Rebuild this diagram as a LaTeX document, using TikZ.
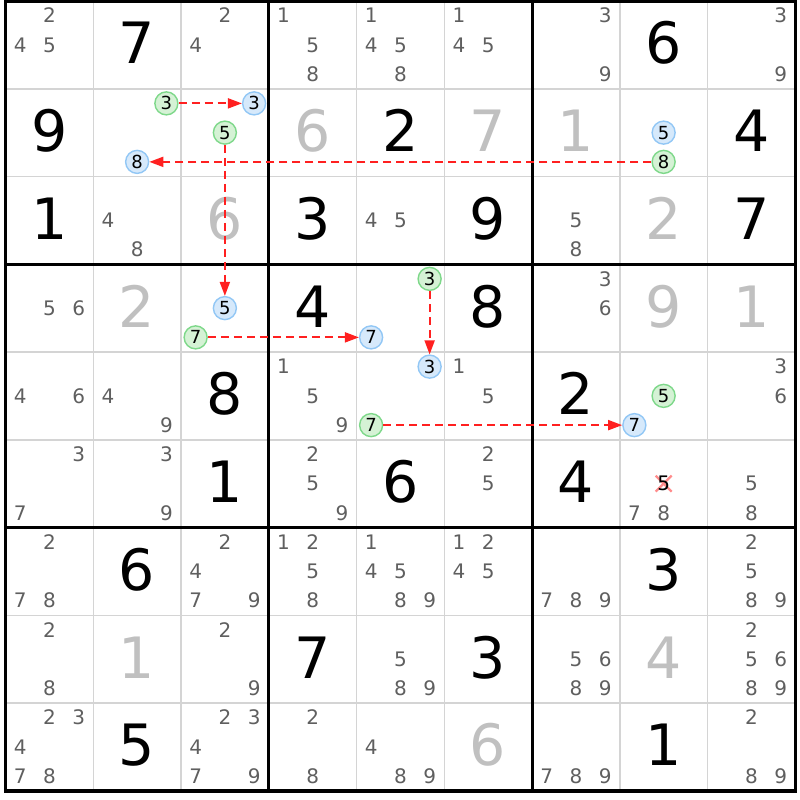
\documentclass[tikz,border=0pt]{standalone}
\usepackage{fontspec}
\setmainfont{DejaVu Sans}
\usetikzlibrary{arrows.meta}
\definecolor{cand}{HTML}{5F5F5F}
\definecolor{solved}{HTML}{C0C0C0}
\definecolor{gfill}{HTML}{D5F2D5}
\definecolor{gline}{HTML}{7ED88A}
\definecolor{bfill}{HTML}{D6E9FB}
\definecolor{bline}{HTML}{92C7F5}
\definecolor{thingrid}{HTML}{D4D4D4}
\definecolor{linkred}{HTML}{FF2020}
\definecolor{xred}{HTML}{FF8C8C}
\newcommand\candpos[3]{%
  \pgfmathtruncatemacro\sc{mod(#3-1,3)}%
  \pgfmathtruncatemacro\sr{div(#3-1,3)}%
  \pgfmathsetmacro\px{5.5+87.75*(#2-1)+87.75*(2*\sc+1)/6}%
  \pgfmathsetmacro\py{1+87.75*(#1-1)+87.75*(2*\sr+1)/6}%
}
\tikzset{
  givenstyle/.style={font=\fontsize{57}{57}\selectfont, text=black, anchor=base, inner sep=0pt},
  solvedstyle/.style={givenstyle, text=solved},
  candstyle/.style={font=\fontsize{20}{20}\selectfont, text=cand, anchor=base, inner sep=0pt},
  markbase/.style={circle, line width=1.4pt, minimum size=23pt, inner sep=0pt,
    font=\fontsize{18}{18}\selectfont, text=black, text height=13pt, text depth=0pt},
  gcirc/.style={markbase, draw=gline, fill=gfill},
  bcirc/.style={markbase, draw=bline, fill=bfill},
  link/.style={color=linkred, line width=1.8pt, dash pattern=on 8pt off 5pt,
    -{Triangle[length=14pt,width=10pt]}},
  thinline/.style={draw=thingrid, line width=1.5pt},
  thickline/.style={draw=black, line width=3pt},
  xline/.style={draw=xred, line width=2.2pt}
}
\begin{document}
\begin{tikzpicture}[x=1pt,y=-1pt]
\useasboundingbox (0,0) rectangle (800,800);
% thin grid lines
\foreach \i in {1,2,4,5,7,8}{
  \draw[thinline] (5.5+87.75*\i,1) -- (5.5+87.75*\i,790.75);
  \draw[thinline] (5.5,1+87.75*\i) -- (795.25,1+87.75*\i);
}
% thick box lines
\foreach \i in {3,6}{
  \draw[thickline] (5.5+87.75*\i,1) -- (5.5+87.75*\i,790.75);
  \draw[thickline] (5.5,1+87.75*\i) -- (795.25,1+87.75*\i);
}
\draw[draw=black, line width=3.5pt] (5.5,1) rectangle (795.25,790.75);
% given digits
\foreach \r/\c/\d in {1/2/7,1/8/6,2/1/9,2/5/2,2/9/4,3/1/1,3/4/3,3/6/9,3/9/7,
  4/4/4,4/6/8,5/3/8,5/7/2,6/3/1,6/5/6,6/7/4,7/2/6,7/8/3,8/4/7,8/6/3,9/2/5,9/8/1}{
  \pgfmathsetmacro\cx{5.5+87.75*(\c-0.5)}
  \pgfmathsetmacro\cy{1+87.75*(\r-0.5)+19}
  \node[givenstyle] (giv-\r-\c) at (\cx,\cy) {\d};
}
% solved digits
\foreach \r/\c/\d in {2/4/6,2/6/7,2/7/1,3/3/6,3/8/2,4/2/2,4/8/9,4/9/1,8/2/1,8/8/4,9/6/6}{
  \pgfmathsetmacro\cx{5.5+87.75*(\c-0.5)}
  \pgfmathsetmacro\cy{1+87.75*(\r-0.5)+19}
  \node[solvedstyle] (sol-\r-\c) at (\cx,\cy) {\d};
}
% candidates
\foreach \r/\c/\ks in {
  1/1/{2,4,5},1/3/{2,4},1/4/{1,5,8},1/5/{1,4,5,8},1/6/{1,4,5},1/7/{3,9},1/9/{3,9},
  3/2/{4,8},3/5/{4,5},3/7/{5,8},
  4/1/{5,6},4/7/{3,6},
  5/1/{4,6},5/2/{4,9},5/4/{1,5,9},5/6/{1,5},5/9/{3,6},
  6/1/{3,7},6/2/{3,9},6/4/{2,5,9},6/6/{2,5},6/8/{7,8},6/9/{5,8},
  7/1/{2,7,8},7/3/{2,4,7,9},7/4/{1,2,5,8},7/5/{1,4,5,8,9},7/6/{1,2,4,5},7/7/{7,8,9},7/9/{2,5,8,9},
  8/1/{2,8},8/3/{2,9},8/5/{5,8,9},8/7/{5,6,8,9},8/9/{2,5,6,8,9},
  9/1/{2,3,4,7,8},9/3/{2,3,4,7,9},9/4/{2,8},9/5/{4,8,9},9/7/{7,8,9},9/9/{2,8,9}}{
  \foreach \k in \ks {
    \candpos{\r}{\c}{\k}
    \node[candstyle] (cand-\r-\c-\k) at (\px,\py+7.3) {\k};
  }
}
% eliminated candidate
\candpos{6}{8}{5}
\coordinate (xc) at (\px,\py);
\draw[xline] ([shift={(-8,-8)}]xc) -- ([shift={(8,8)}]xc);
\draw[xline] ([shift={(-8,8)}]xc) -- ([shift={(8,-8)}]xc);
\node[candstyle, text=black] (cand-6-8-5) at (\px,\py+7.3) {5};
% marked candidates
\candpos{2}{2}{3} \node[gcirc] (g1) at (\px,\py) {3};
\candpos{2}{3}{3} \node[bcirc] (b1) at (\px,\py) {3};
\candpos{2}{8}{8} \node[gcirc] (g2) at (\px,\py) {8};
\candpos{2}{2}{8} \node[bcirc] (b2) at (\px,\py) {8};
\candpos{2}{3}{5} \node[gcirc] (g3) at (\px,\py) {5};
\candpos{4}{3}{5} \node[bcirc] (b3) at (\px,\py) {5};
\candpos{4}{3}{7} \node[gcirc] (g4) at (\px,\py) {7};
\candpos{4}{5}{7} \node[bcirc] (b4) at (\px,\py) {7};
\candpos{4}{5}{3} \node[gcirc] (g5) at (\px,\py) {3};
\candpos{5}{5}{3} \node[bcirc] (b5) at (\px,\py) {3};
\candpos{5}{5}{7} \node[gcirc] (g6) at (\px,\py) {7};
\candpos{5}{8}{7} \node[bcirc] (b6) at (\px,\py) {7};
\candpos{2}{8}{5} \node[bcirc] (b7) at (\px,\py) {5};
\candpos{5}{8}{5} \node[gcirc] (g7) at (\px,\py) {5};
% links
\draw[link] (g1) -- (b1);
\draw[link] (g2) -- (b2);
\draw[link] (g3) -- (b3);
\draw[link] (g4) -- (b4);
\draw[link] (g5) -- (b5);
\draw[link] (g6) -- (b6);
\end{tikzpicture}
\end{document}
